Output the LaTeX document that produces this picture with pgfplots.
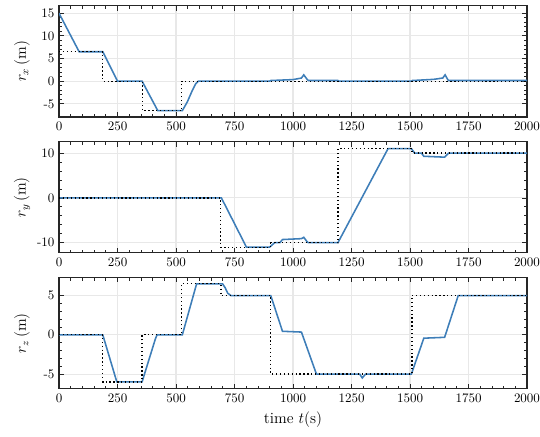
\documentclass[border=0pt]{standalone}
\usepackage{pgfplots}
\pgfplotsset{compat=1.18}

\definecolor{lineblue}{RGB}{62,126,184}

\pgfplotsset{
  panel/.style={
    scale only axis, width=360pt, height=85.4pt,
    xmin=0, xmax=2000, xtick distance=250,
    minor x tick num=4, minor y tick num=4,
    grid=major, major grid style={gray!18, line width=0.8pt},
    axis line style={black!85, line width=0.8pt},
    major tick length=3.5pt, minor tick length=2pt,
    tick style={black!85, line width=0.6pt},
    tick align=inside, xtick pos=both, ytick pos=both,
    /pgf/number format/assume math mode=true,
    /pgf/number format/1000 sep={},
    tick label style={font=\normalsize},
    label style={font=\large},
    ylabel style={at={(axis description cs:-0.079,0.5)}, anchor=center},
  },
  ref/.style={black, dotted, line width=1pt},
  act/.style={lineblue, line width=1.2pt},
}

\begin{document}
\begin{tikzpicture}
% r_x
\begin{axis}[panel, at={(0,209.2pt)}, ymin=-7.9, ymax=16.6, ytick={-5,0,5,10,15},
  ylabel={$r_x\,(\mathrm{m})$}]
\addplot[act] coordinates {(0,15)(86,6.5)(187,6.5)(250,0)(355,0)(422,-6.5)(527,-6.5)
  (548,-4.6)(570,-2.0)(584,-0.6)(595,0)(900,0)(905,0.15)(1000,0.35)(1036,0.7)(1046,1.4)
  (1062,0.3)(1066,0.15)(1192,0.15)(1196,0)(1506,0)(1510,0.15)(1600,0.4)(1640,0.7)
  (1650,1.4)(1662,0.3)(1666,0.15)(2000,0.15)};
\addplot[ref] coordinates {(0,6.5)(187,6.5)(187,0)(356,0)(356,-6.5)(524,-6.5)(524,0)(2000,0)};
\end{axis}
% r_y
\begin{axis}[panel, at={(0,104.6pt)}, ymin=-12.3, ymax=12.5, ytick={-10,0,10},
  ylabel={$r_y\,(\mathrm{m})$}]
\addplot[act] coordinates {(0,0)(694,0)(801,-11)(900,-11)(915,-10.3)(922,-10)(944,-10)
  (955,-9.3)(1036,-9.1)(1046,-8.8)(1062,-9.9)(1066,-10)(1192,-10)(1406,11)(1506,11)
  (1520,10)(1549,10)(1559,9.3)(1648,9.1)(1665,10)(2000,10)};
\addplot[ref] coordinates {(0,0)(690,0)(690,-11)(905,-11)(905,-10)(1192,-10)(1192,11)
  (1508,11)(1508,10)(2000,10)};
\end{axis}
% r_z
\begin{axis}[panel, at={(0,0pt)}, ymin=-6.9, ymax=7.25, ytick={-5,0,5},
  ylabel={$r_z\,(\mathrm{m})$}, xlabel={time $t$(s)}]
\addplot[act] coordinates {(0,0)(187,0)(247,-6)(355,-6)(412,-0.5)(419,0)(527,0)(588,6.5)
  (699,6.5)(710,6.0)(721,5.3)(735,5)(905,5)(955,0.45)(1036,0.35)(1100,-5)(1285,-5)
  (1296,-5.5)(1310,-5)(1506,-5)(1559,-0.43)(1648,-0.32)(1706,5)(2000,5)};
\addplot[ref] coordinates {(0,0)(187,0)(187,-6)(355,-6)(355,0)(524,0)(524,6.5)(692,6.5)
  (692,5)(905,5)(905,-5)(1508,-5)(1508,5)(2000,5)};
\end{axis}
\pgfresetboundingbox
\path[use as bounding box] (-45.4pt,-36.2pt) rectangle (370pt,299.2pt);
\end{tikzpicture}
\end{document}
